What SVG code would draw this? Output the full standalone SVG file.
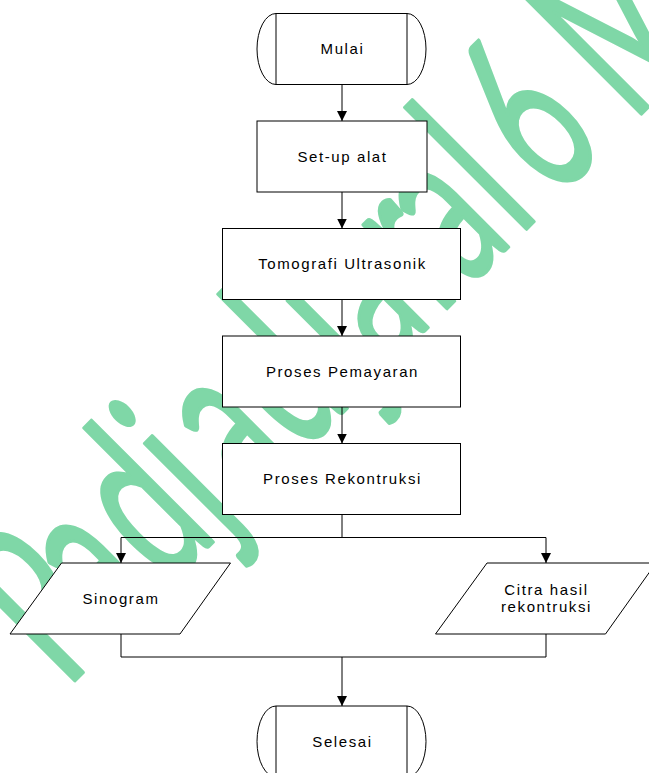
<svg xmlns="http://www.w3.org/2000/svg" width="649" height="773" viewBox="0 0 649 773">
<defs>
<marker id="ah" viewBox="0 0 10 10" refX="10" refY="5" markerWidth="10" markerHeight="10" markerUnits="userSpaceOnUse" orient="auto">
<path d="M0,0 L10,5 L0,10 Z" fill="#000"/>
</marker>
<style>
.box{fill:#fff;stroke:#000;stroke-width:1}
.ln{fill:none;stroke:#000;stroke-width:1}
.lbl{font-family:"Liberation Sans",Arial,sans-serif;font-size:15px;letter-spacing:1.6px;fill:#000;text-anchor:middle}
.wm{font-family:Lato,"Open Sans",sans-serif;font-size:233px;fill:#7fd7a7;stroke:#7fd7a7;stroke-width:3;stroke-linejoin:round;stroke-linecap:round}
.conn{fill:none;stroke:#000;stroke-width:1}
</style>
</defs>
<rect width="649" height="773" fill="#fff"/>
<g id="watermark" transform="rotate(-45) scale(0.57 1)">
<text class="wm" vector-effect="non-scaling-stroke" x="-774 -651 -521 -389 -312 -189 -35 25 154 225 351 440 632" y="534">Padjadjaral6M</text>
</g>
<g id="mulai">
<path class="box" d="M276,13.5 H407 A19,35.5 0 0 1 407,84.5 H276 A19,35.5 0 0 1 276,13.5 Z"/>
<line class="ln" x1="276" y1="13.5" x2="276" y2="84.5"/>
<line class="ln" x1="407" y1="13.5" x2="407" y2="84.5"/>
<text class="lbl" x="342.5" y="54">Mulai</text>
</g>
<g id="setup">
<rect class="box" x="257" y="121" width="170" height="71"/>
<text class="lbl" x="342.5" y="161.5">Set-up alat</text>
</g>
<g id="tomografi">
<rect class="box" x="222.5" y="228.5" width="238" height="71"/>
<text class="lbl" x="342.5" y="269">Tomografi Ultrasonik</text>
</g>
<g id="pemayaran">
<rect class="box" x="222.5" y="336" width="238" height="71"/>
<text class="lbl" x="342.5" y="376.5">Proses Pemayaran</text>
</g>
<g id="rekontruksi">
<rect class="box" x="222.5" y="443.5" width="238" height="71"/>
<text class="lbl" x="342.5" y="484">Proses Rekontruksi</text>
</g>
<g id="sinogram">
<path class="box" d="M61.5,563 H230.5 L180,634 H10 Z"/>
<text class="lbl" x="121" y="603.5">Sinogram</text>
</g>
<g id="citra">
<path class="box" d="M487,563 H656 L605.5,634 H435.5 Z"/>
<text class="lbl" x="546.5" y="595">Citra hasil</text>
<text class="lbl" x="546.5" y="612">rekontruksi</text>
</g>
<g id="selesai">
<path class="box" d="M276,706 H407 A19,35.5 0 0 1 407,777 H276 A19,35.5 0 0 1 276,706 Z"/>
<line class="ln" x1="276" y1="706" x2="276" y2="777"/>
<line class="ln" x1="407" y1="706" x2="407" y2="777"/>
<text class="lbl" x="342.5" y="746.5">Selesai</text>
</g>
<g id="connectors">
<path class="conn" d="M342,84.5 V121" marker-end="url(#ah)"/>
<path class="conn" d="M342,192 V228.5" marker-end="url(#ah)"/>
<path class="conn" d="M342,299.5 V336" marker-end="url(#ah)"/>
<path class="conn" d="M342,407 V443.5" marker-end="url(#ah)"/>
<path class="conn" d="M342,514.5 V537.5 H121 V563" marker-end="url(#ah)"/>
<path class="conn" d="M342,537.5 H546 V563" marker-end="url(#ah)"/>
<path class="conn" d="M121,634 V657 H342 V706" marker-end="url(#ah)"/>
<path class="conn" d="M546,634 V657 H342"/>
</g>
</svg>
